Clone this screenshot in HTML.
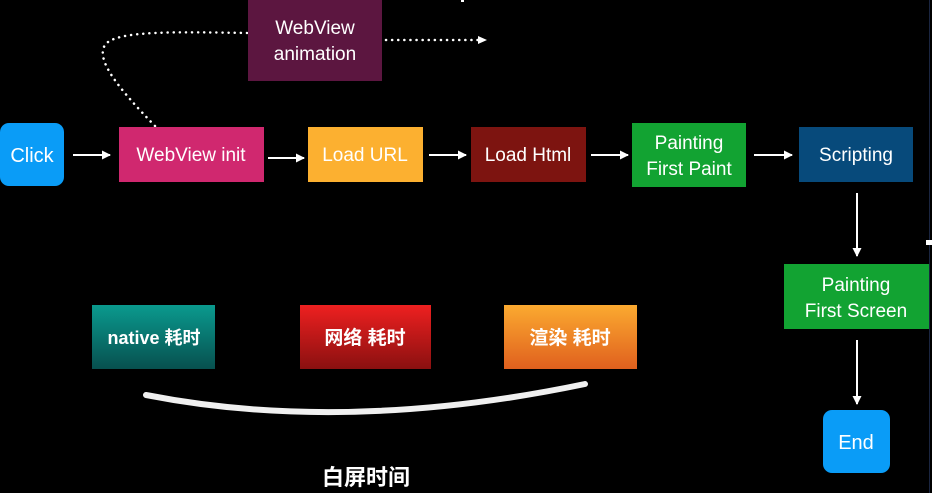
<!DOCTYPE html>
<html><head><meta charset="utf-8"><style>
html,body{margin:0;padding:0;background:#000;}
svg{display:block}
text{font-family:"Liberation Sans","Noto Sans CJK SC",sans-serif;fill:#fff;text-anchor:middle;}
</style></head><body>
<svg width="932" height="493" viewBox="0 0 932 493" xmlns="http://www.w3.org/2000/svg">
<defs>
<linearGradient id="g1" x1="0" y1="0" x2="0" y2="1"><stop offset="0" stop-color="#0a9a8e"/><stop offset="1" stop-color="#07504f"/></linearGradient>
<linearGradient id="g2" x1="0" y1="0" x2="0" y2="1"><stop offset="0" stop-color="#ee2020"/><stop offset="1" stop-color="#8a1010"/></linearGradient>
<linearGradient id="g3" x1="0" y1="0" x2="0" y2="1"><stop offset="0" stop-color="#fbaa30"/><stop offset="1" stop-color="#e0601e"/></linearGradient>
<marker id="ah" markerWidth="9" markerHeight="9" refX="8" refY="4.5" orient="auto" markerUnits="userSpaceOnUse"><path d="M0,0 L9,4.5 L0,9 Z" fill="#fff"/></marker>
</defs>
<rect width="932" height="493" fill="#000"/>
<line x1="929.5" y1="0" x2="929.5" y2="493" stroke="#1a2540" stroke-width="1"/>
<rect x="926" y="240" width="6" height="5" fill="#fff"/>
<rect x="461" y="0" width="3" height="2" fill="#fff"/>

<path d="M155,126 C120,90 95,60 105,45 C115,30 180,32 248,33" fill="none" stroke="#fff" stroke-width="2.5" stroke-dasharray="0.1,6" stroke-linecap="round"/>
<line x1="386" y1="40" x2="478" y2="40" stroke="#fff" stroke-width="2.5" stroke-dasharray="0.1,6" stroke-linecap="round"/>
<path d="M478,36 L487,40 L478,44 Z" fill="#fff"/>

<rect x="0" y="123" width="64" height="63" rx="9" fill="#0a9cf7"/>
<text x="32" y="162" font-size="20">Click</text>
<rect x="119" y="127" width="145" height="55" fill="#d0286f"/>
<text x="191" y="161" font-size="19">WebView init</text>
<rect x="308" y="127" width="115" height="55" fill="#fcb030"/>
<text x="365" y="161" font-size="19">Load URL</text>
<rect x="471" y="127" width="115" height="55" fill="#7d1410"/>
<text x="528" y="161" font-size="19">Load Html</text>
<rect x="632" y="123" width="114" height="64" fill="#12a332"/>
<text x="689" y="149" font-size="19">Painting</text>
<text x="689" y="175" font-size="19">First Paint</text>
<rect x="799" y="127" width="114" height="55" fill="#074a7b"/>
<text x="856" y="161" font-size="19">Scripting</text>
<rect x="248" y="0" width="134" height="81" fill="#5c1640"/>
<text x="315" y="34" font-size="19">WebView</text>
<text x="315" y="60" font-size="19">animation</text>
<rect x="784" y="264" width="145" height="65" fill="#12a332"/>
<text x="856" y="291" font-size="19">Painting</text>
<text x="856" y="317" font-size="19">First Screen</text>
<rect x="823" y="410" width="67" height="63" rx="9" fill="#0a9cf7"/>
<text x="856" y="449" font-size="20">End</text>

<g stroke="#fff" stroke-width="2" marker-end="url(#ah)">
<line x1="73" y1="155" x2="110" y2="155"/>
<line x1="268" y1="158" x2="304" y2="158"/>
<line x1="429" y1="155" x2="466" y2="155"/>
<line x1="591" y1="155" x2="628" y2="155"/>
<line x1="754" y1="155" x2="792" y2="155"/>
<line x1="857" y1="193" x2="857" y2="256"/>
<line x1="857" y1="340" x2="857" y2="404"/>
</g>

<rect x="92" y="305" width="123" height="64" fill="url(#g1)"/>
<text x="154" y="344" font-size="18" font-weight="bold">native 耗时</text>
<rect x="300" y="305" width="131" height="64" fill="url(#g2)"/>
<text x="365" y="344" font-size="19" font-weight="bold">网络 耗时</text>
<rect x="504" y="305" width="133" height="64" fill="url(#g3)"/>
<text x="570" y="344" font-size="19" font-weight="bold">渲染 耗时</text>

<path d="M146,395 Q345,434 585,384" fill="none" stroke="#f0f0f0" stroke-width="6" stroke-linecap="round"/>
<text x="366" y="485" font-size="22" font-weight="bold">白屏时间</text>
</svg>
</body></html>
